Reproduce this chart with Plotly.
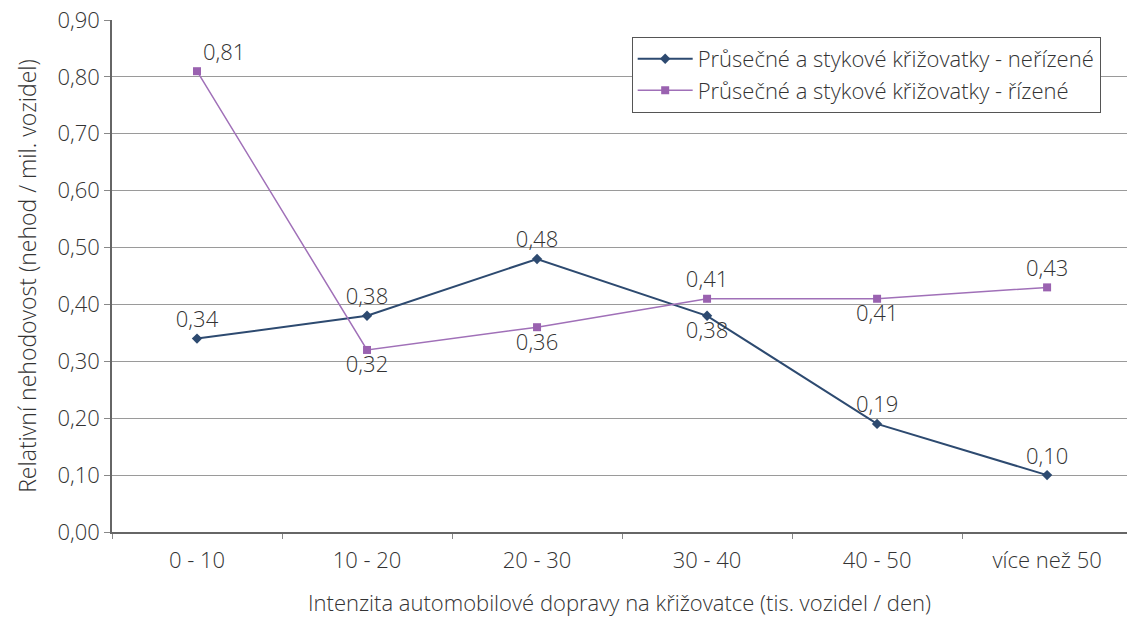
import plotly.graph_objects as go

categories = ["0 - 10", "10 - 20", "20 - 30", "30 - 40", "40 - 50", "více než 50"]
nerizene = [0.34, 0.38, 0.48, 0.38, 0.19, 0.10]
rizene = [0.81, 0.32, 0.36, 0.41, 0.41, 0.43]

name_nerizene = "Průsečné a stykové křižovatky - neřízené"
name_rizene = "Průsečné a stykové křižovatky - řízené"

pos_nerizene = ["top center", "top center", "top center", "bottom center", "top center", "top center"]
pos_rizene = ["top right", "bottom center", "bottom center", "top center", "bottom center", "top center"]

def fmt(v):
    return f"{v:.2f}".replace(".", ",")

FONT = "Open Sans, Noto Sans, sans-serif"
TXT = "#333333"
FS = 22
W = 300

def f(size=FS):
    return dict(family=FONT, size=size, color=TXT, weight=W)

fig = go.Figure()
fig.add_trace(go.Scatter(
    x=categories, y=nerizene, name=name_nerizene,
    mode="lines+markers+text",
    line=dict(color="#2d4a70", width=2),
    marker=dict(symbol="diamond", size=8, color="#2d4a70"),
    text=[fmt(v) for v in nerizene], textposition=pos_nerizene,
    textfont=f(),
    cliponaxis=False,
))
fig.add_trace(go.Scatter(
    x=categories, y=rizene, name=name_rizene,
    mode="lines+markers+text",
    line=dict(color="#a070b8", width=1.5),
    marker=dict(symbol="square", size=8, color="#9a62b0"),
    text=[fmt(v) for v in rizene], textposition=pos_rizene,
    textfont=f(),
    cliponaxis=False,
))

fig.update_layout(
    width=1127, height=622,
    margin=dict(l=112, r=0, t=20, b=90),
    paper_bgcolor="white", plot_bgcolor="white",
    font=f(),
    separators=", ",
    legend=dict(
        x=0.512, y=0.967, xanchor="left", yanchor="top",
        bgcolor="white", bordercolor="#555555", borderwidth=1,
        font=f(22),
        itemwidth=55, tracegroupgap=0,
    ),
    xaxis=dict(
        type="category", range=[-0.5, 5.47],
        showgrid=False, showline=True, linecolor="#666666", linewidth=1.5,
        ticks="outside", tickson="boundaries", ticklen=5, tickcolor="#888888",
        tickfont=f(), ticklabelstandoff=8,
        title=dict(text="Intenzita automobilové dopravy na křižovatce (tis. vozidel / den)",
                   font=f(), standoff=22),
    ),
    yaxis=dict(
        range=[0, 0.9], dtick=0.1, tickformat=".2f",
        showgrid=True, gridcolor="#9a9a9a", gridwidth=1,
        showline=True, linecolor="#666666", linewidth=1.5,
        ticks="outside", ticklen=6, tickcolor="#888888",
        tickfont=f(), zeroline=False,
        title=dict(text="Relativní nehodovost (nehod / mil. vozidel)",
                   font=f(23), standoff=14),
    ),
)

fig.write_html("out.html")
